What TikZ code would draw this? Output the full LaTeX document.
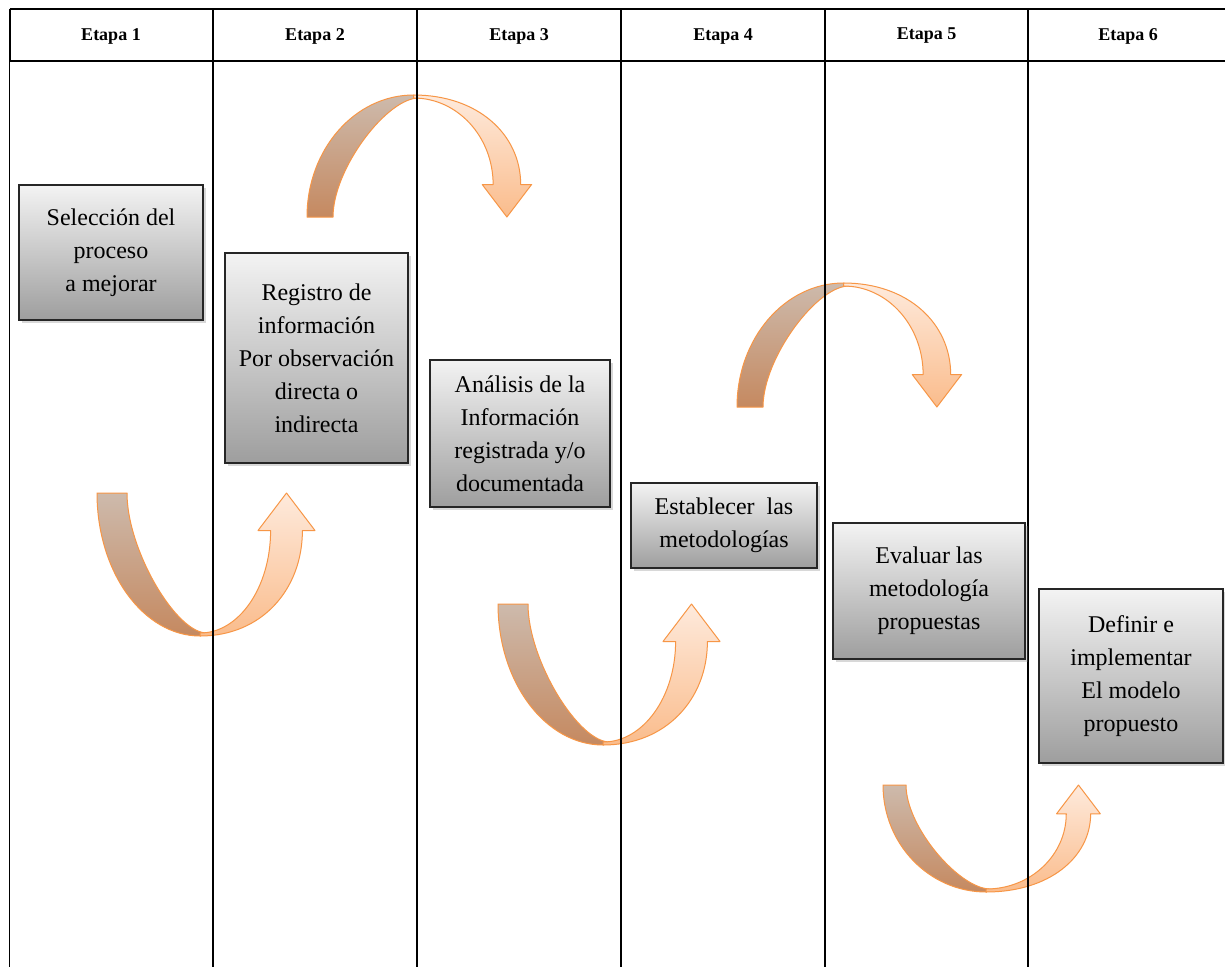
\documentclass[tikz,border=0pt]{standalone}
\usepackage{fontspec}
\setmainfont{Liberation Serif}
\usetikzlibrary{shadows}
\definecolor{arrline}{RGB}{247,150,70}
\definecolor{ltop}{RGB}{205,186,172}
\definecolor{lbot}{RGB}{197,137,96}
\definecolor{rtop}{RGB}{254,234,220}
\definecolor{rbot}{RGB}{250,188,140}
\definecolor{boxtop}{RGB}{243,243,243}
\definecolor{boxbot}{RGB}{158,158,158}
\definecolor{boxline}{RGB}{38,38,38}
\tikzset{
  stagebox/.style={draw=boxline, line width=1.7pt, top color=boxtop, bottom color=boxbot,
    align=center, inner sep=0pt, font=\fontsize{24}{33}\selectfont,
    drop shadow={shadow xshift=2.5pt, shadow yshift=-3pt, opacity=0.3}},
  headtext/.style={font=\fontsize{18}{18}\selectfont\bfseries, inner sep=0pt},
  tabhead/.style={line width=2pt, black},
  tabbody/.style={line width=1.3pt, black},
  leftlimb/.style={draw=arrline, line width=1pt, top color=ltop, bottom color=lbot, line join=round},
  rightlimb/.style={draw=arrline, line width=1pt, top color=rtop, bottom color=rbot, line join=round}
}
% #1 tail outer x, #2 tail line y, #3 width, #4 height, #5 band, #6 +1 (U) / -1 (arch)
\newcommand\bendarrow[6]{%
  \pgfmathsetmacro\bAx{#1}\pgfmathsetmacro\bAy{#2}%
  \pgfmathsetmacro\bAw{#3}\pgfmathsetmacro\bAh{#4}%
  \pgfmathsetmacro\bAb{#5}\pgfmathsetmacro\bAs{#6}%
  \pgfmathsetmacro\bApx{\bAx+0.48*\bAw}%
  \pgfmathsetmacro\bApy{\bAy+\bAs*\bAh}%
  \pgfmathsetmacro\bAqy{\bApy-\bAs*3}%
  \pgfmathsetmacro\bAex{\bApx+0.25*\bAb}%
  \pgfmathsetmacro\bAti{\bAx+\bAb}%
  \pgfmathsetmacro\bAtx{\bAx+\bAw-0.85*\bAb}%
  \pgfmathsetmacro\bAhb{\bAy+\bAs*1.25*\bAb}%
  \pgfmathsetmacro\bAwa{\bAtx-0.95*\bAb}%
  \pgfmathsetmacro\bAwb{\bAtx+0.95*\bAb}%
  \pgfmathsetmacro\bAra{\bAtx-0.53*\bAb}%
  \pgfmathsetmacro\bArb{\bAtx+0.53*\bAb}%
  % left limb outer (quarter ellipse)
  \pgfmathsetmacro\bAcya{\bAy+\bAs*0.552*\bAh}%
  \pgfmathsetmacro\bAcxa{\bApx-0.552*(\bApx-\bAx)}%
  % left limb inner (outer shifted by the band)
  \pgfmathsetmacro\bAcyb{\bAy+\bAs*0.4*\bAh}%
  \pgfmathsetmacro\bAcxb{\bAex-0.3*(\bApx-\bAx)}%
  \pgfmathsetmacro\bAcyc{\bApy-\bAs*0.01*\bAh}%
  % right limb outer
  \pgfmathsetmacro\bAcxd{\bApx+0.6*(\bArb-\bApx)}%
  \pgfmathsetmacro\bAcyd{\bAhb+0.56*(\bApy-\bAhb)}%
  % right limb inner
  \pgfmathsetmacro\bAcye{\bAhb+0.552*(\bAqy-\bAhb)}%
  \pgfmathsetmacro\bAcxe{\bApx+0.552*(\bAra-\bApx)}%
  \shade[leftlimb] (\bAx,\bAy) -- (\bAti,\bAy)
    .. controls (\bAti,\bAcyb) and (\bAcxb,\bAcyc) .. (\bAex,\bAqy)
    -- (\bApx,\bApy)
    .. controls (\bAcxa,\bApy) and (\bAx,\bAcya) .. cycle;
  \shade[rightlimb] (\bApx,\bApy)
    .. controls (\bAcxd,\bApy) and (\bArb,\bAcyd) .. (\bArb,\bAhb)
    -- (\bAwb,\bAhb) -- (\bAtx,\bAy) -- (\bAwa,\bAhb) -- (\bAra,\bAhb)
    .. controls (\bAra,\bAcye) and (\bAcxe,\bAqy) .. (\bApx,\bAqy) -- cycle;
}
\begin{document}
\begin{tikzpicture}[x=1pt,y=-1pt]
\useasboundingbox (0,0) rectangle (1225,966);
\fill[white] (0,0) rectangle (1225,966);
\begin{scope}
\clip (0,0) rectangle (1225,966);
% arrows
\bendarrow{97}{493}{215}{143}{30}{1}
\bendarrow{307}{217}{222}{122}{26}{-1}
\bendarrow{498}{604}{219}{141}{30}{1}
\bendarrow{737}{407}{222}{124}{26}{-1}
\bendarrow{883}{785}{215}{107}{23}{1}
% table
\draw[tabhead] (9.5,9.5) -- (1230,9.5);
\draw[tabhead] (9.5,61.5) -- (1230,61.5);
\foreach \cx in {9.5,213,417,621,825,1028,1226}{
  \draw[tabhead] (\cx,9.5) -- (\cx,61.5);
  \draw[tabbody] (\cx,61.5) -- (\cx,970);
}
\end{scope}
% headers
\node[headtext] (h1) at (111,36) {Etapa 1};
\node[headtext] (h2) at (315,36) {Etapa 2};
\node[headtext] (h3) at (519,36) {Etapa 3};
\node[headtext] (h4) at (723,36) {Etapa 4};
\node[headtext] (h5) at (926.5,36) {Etapa 5};
\node[headtext] (h6) at (1128,36) {Etapa 6};
% boxes
\node[stagebox, minimum width=184pt, minimum height=135pt] (b1) at (111,252.5)
  {Selección del\\proceso\\a mejorar};
\node[stagebox, minimum width=183pt, minimum height=210pt] (b2) at (316.5,358)
  {Registro de\\información\\Por observación\\directa o\\indirecta};
\node[stagebox, minimum width=180pt, minimum height=147pt] (b3) at (520,433.5)
  {Análisis de la\\Información\\registrada y/o\\documentada};
\node[stagebox, minimum width=186pt, minimum height=85pt] (b4) at (724,525.5)
  {Establecer\ \ las\\metodologías};
\node[stagebox, minimum width=192pt, minimum height=136pt] (b5) at (929,591)
  {Evaluar las\\metodología\\propuestas};
\node[stagebox, minimum width=184pt, minimum height=174pt] (b6) at (1131,676)
  {Definir e\\implementar\\El modelo\\propuesto};
\end{tikzpicture}
\end{document}
